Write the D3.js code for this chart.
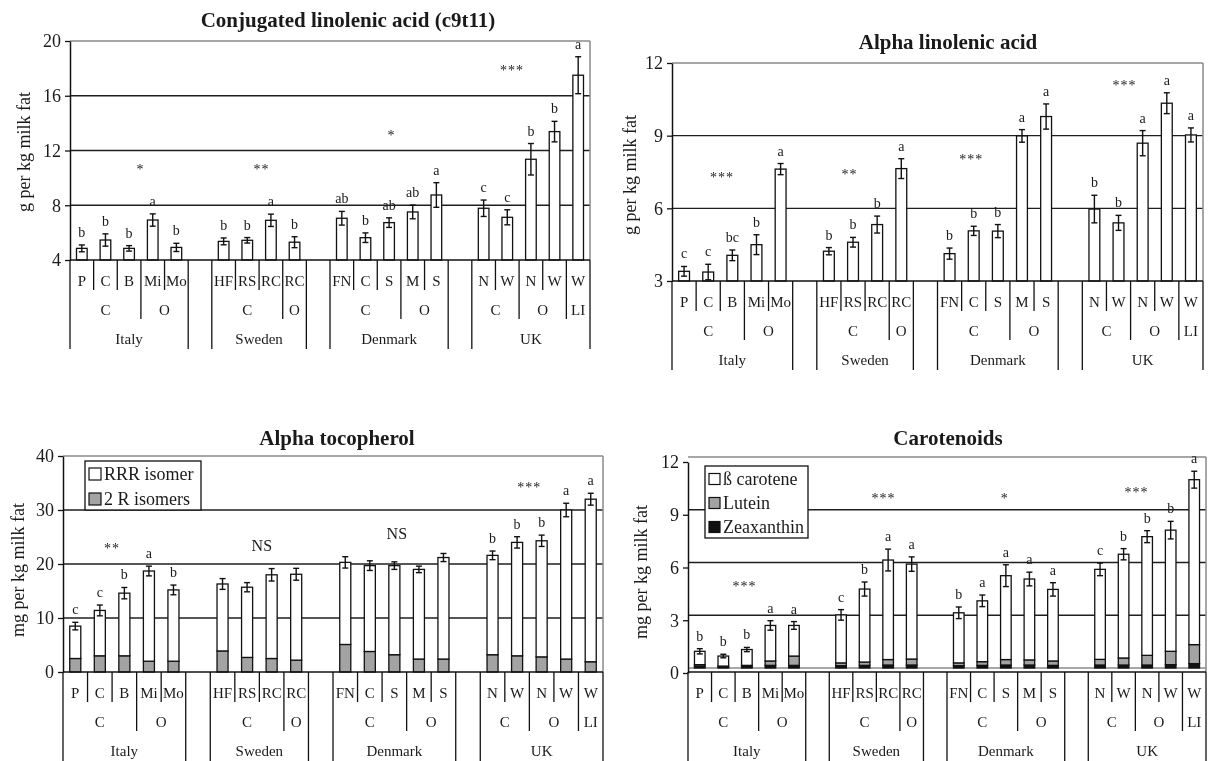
<!DOCTYPE html>
<html><head><meta charset="utf-8">
<script src="https://cdn.jsdelivr.net/npm/d3@7"></script>
<style>
body{margin:0;background:#fff}
svg{display:block;will-change:transform}
text{font-family:"Liberation Serif","Times New Roman",serif;fill:#1a1a1a}
</style>
</head><body>
<svg id="chart" width="1217" height="761"></svg>
<script>
// ---------- categories (three-level axis, blank slots separate countries) ----------
const level1 = ["P","C","B","Mi","Mo","","HF","RS","RC","RC","","FN","C","S","M","S","","N","W","N","W","W"];
const level2 = ["C","C","C","O","O","","C","C","C","O","","C","C","C","O","O","","C","C","O","O","LI"];
const level3 = ["Italy","Italy","Italy","Italy","Italy","","Sweden","Sweden","Sweden","Sweden","","Denmark","Denmark","Denmark","Denmark","Denmark","","UK","UK","UK","UK","UK"];

// ---------- Conjugated linolenic acid (c9t11) ----------
const claValues = [4.85,5.46,4.85,6.92,4.92,null,5.36,5.44,6.90,5.30,null,7.05,5.63,6.73,7.51,8.75,null,7.78,7.12,11.36,13.38,17.50];
const claErr    = [0.25,0.45,0.20,0.45,0.30,null,0.25,0.20,0.45,0.40,null,0.50,0.35,0.35,0.50,0.90,null,0.60,0.55,1.15,0.75,1.35];
const claLetters = ["b","b","b","a","b","","b","b","a","b","","ab","b","ab","ab","a","","c","c","b","b","a"];
const claStars = [["*",2.48,10.9],["**",7.6,10.9],["*",13.1,13.35],["***",18.2,18.1]];
const claTicks = [4,8,12,16,20];

// ---------- Alpha linolenic acid ----------
const alaValues = [3.40,3.37,4.06,4.50,7.62,null,4.23,4.60,5.33,7.64,null,4.13,5.07,5.06,8.99,9.79,null,5.97,5.40,8.69,10.34,9.03];
const alaErr    = [0.20,0.32,0.22,0.41,0.23,null,0.15,0.20,0.35,0.41,null,0.23,0.19,0.27,0.26,0.52,null,0.57,0.31,0.52,0.43,0.29];
const alaLetters = ["c","c","bc","b","a","","b","b","b","a","","b","b","b","a","a","","b","b","a","a","a"];
const alaStars = [["***",1.57,7.42],["**",6.85,7.55],["***",11.9,8.16],["***",18.25,11.2]];
const alaTicks = [3,6,9,12];

// ---------- Alpha tocopherol ----------
const tocoTwoR = [2.5,3.0,3.0,2.0,2.0,null,3.9,2.7,2.5,2.2,null,5.1,3.8,3.2,2.4,2.4,null,3.2,3.0,2.8,2.4,1.9];
const tocoRRR  = [6.0,8.4,11.6,16.7,13.2,null,12.4,13.0,15.5,15.9,null,15.2,15.9,16.5,16.6,18.8,null,18.4,21.0,21.5,27.6,30.1];
const tocoErr  = [0.7,1.0,1.05,0.9,0.9,null,1.0,0.85,1.15,1.1,null,1.05,0.9,0.7,0.6,0.75,null,0.8,1.05,1.05,1.25,1.1];
const tocoLetters = ["c","c","b","a","b","","","","","","","","","","","","","b","b","b","a","a"];
const tocoStars = [["**",1.5,23.5],["NS",7.6,23.5],["NS",13.1,25.8],["***",18.5,34.9]];
const tocoTicks = [0,10,20,30,40];
const tocoKeys = ["2 R isomers","RRR isomer"];

// ---------- Carotenoids ----------
const caroZea    = [0.10,0.08,0.08,0.15,0.15,null,0.13,0.15,0.17,0.17,null,0.13,0.15,0.17,0.17,0.15,null,0.17,0.17,0.17,0.19,0.25];
const caroLutein = [0.09,0.03,0.07,0.25,0.53,null,0.16,0.19,0.31,0.34,null,0.16,0.21,0.31,0.29,0.25,null,0.32,0.40,0.55,0.76,1.08];
const caroBeta   = [0.76,0.57,0.90,2.02,1.74,null,2.73,4.15,5.66,5.40,null,2.85,3.46,4.77,4.60,4.07,null,5.12,5.90,6.75,6.89,9.38];
const caroErr    = [0.15,0.10,0.12,0.27,0.22,null,0.30,0.40,0.62,0.41,null,0.33,0.33,0.62,0.39,0.38,null,0.36,0.32,0.34,0.50,0.48];
const caroLetters = ["b","b","b","a","a","","c","b","a","a","","b","a","a","a","a","","c","b","b","b","a"];
const caroStars = [["***",1.9,4.85],["***",7.8,9.85],["*",12.95,9.85],["***",18.55,10.19]];
const caroTicks = [0,3,6,9,12];
const caroKeys = ["Zeaxanthin","Lutein","ß carotene"];

const svg = d3.select("#chart");

function runs(keyFn) {
  const out = [];
  let start = 0;
  for (let i = 1; i <= level1.length; i++) {
    if (i === level1.length || keyFn(i) !== keyFn(start)) {
      out.push({start, end: i - 1, key: keyFn(start)});
      start = i;
    }
  }
  return out;
}

function drawPanel(p) {
  const g = svg.append("g");
  const n = level1.length;
  const x = d3.scaleBand().domain(d3.range(n)).range([p.left, p.right]).padding(0);
  const xc = d3.scaleLinear().domain([-0.5, n - 0.5]).range([p.left, p.right]);
  const y = d3.scaleLinear().domain(p.domain).range([p.base, p.top]).clamp(true);
  const catY = p.base + (p.catShift || 0);

  // gridlines
  g.selectAll(".grid").data(p.ticks.filter(t => t > p.domain[0] && t < p.domain[1]))
    .join("line").attr("x1", p.left).attr("x2", p.right)
    .attr("y1", d => y(d)).attr("y2", d => y(d))
    .attr("stroke", "#1f1f1f").attr("stroke-width", 1.4);
  if (p.catShift) {
    g.append("line").attr("x1", p.left).attr("x2", p.right).attr("y1", y(p.domain[0])).attr("y2", y(p.domain[0]))
      .attr("stroke", "#8a8a8a").attr("stroke-width", 1.4);
  }
  // plot border (top, right)
  g.append("line").attr("x1", p.left).attr("x2", p.right).attr("y1", p.top).attr("y2", p.top)
    .attr("stroke", "#8a8a8a").attr("stroke-width", 1.5);
  g.append("line").attr("x1", p.right).attr("x2", p.right).attr("y1", p.top).attr("y2", catY)
    .attr("stroke", "#8a8a8a").attr("stroke-width", 1.5);

  // stacked bars
  const rows = level1.map((c, i) => {
    const r = {i};
    p.series.forEach((s, k) => r["k" + k] = s[i] == null ? 0 : s[i]);
    r.valid = p.series[0][i] != null;
    return r;
  });
  const keys = p.series.map((s, k) => "k" + k);
  const stacked = d3.stack().keys(keys)(rows);
  const bw = x.bandwidth() * 0.45;
  stacked.forEach((layer, k) => {
    g.selectAll(null).data(layer.filter(d => d.data.valid)).join("rect")
      .attr("x", d => x(d.data.i) + (x.bandwidth() - bw) / 2)
      .attr("width", bw)
      .attr("y", d => y(d[1]))
      .attr("height", d => Math.max(0, y(d[0]) - y(d[1])))
      .attr("fill", p.fills[k]).attr("stroke", "#111").attr("stroke-width", 1.3);
  });

  // error bars
  const totals = rows.map(r => keys.reduce((a, k) => a + r[k], 0));
  const eb = rows.filter(r => r.valid);
  const cap = 3;
  g.selectAll(null).data(eb).join("line")
    .attr("x1", d => xc(d.i)).attr("x2", d => xc(d.i))
    .attr("y1", d => y(totals[d.i] - p.err[d.i])).attr("y2", d => y(totals[d.i] + p.err[d.i]))
    .attr("stroke", "#111").attr("stroke-width", 1.4);
  [1, -1].forEach(sg => {
    g.selectAll(null).data(eb).join("line")
      .attr("x1", d => xc(d.i) - cap).attr("x2", d => xc(d.i) + cap)
      .attr("y1", d => y(totals[d.i] + sg * p.err[d.i])).attr("y2", d => y(totals[d.i] + sg * p.err[d.i]))
      .attr("stroke", "#111").attr("stroke-width", 1.4);
  });

  // significance letters
  g.selectAll(null).data(eb.filter(d => p.letters[d.i])).join("text")
    .attr("x", d => xc(d.i)).attr("y", d => y(totals[d.i] + p.err[d.i]) - 8)
    .attr("text-anchor", "middle").attr("font-size", 14).attr("fill", "#222").text(d => p.letters[d.i]);

  // stars / NS
  g.selectAll(null).data(p.stars).join("text")
    .attr("x", d => xc(d[1])).attr("y", d => y(d[2]) + (d[0] === "NS" ? 6 : 8))
    .attr("text-anchor", "middle").attr("font-size", d => d[0] === "NS" ? 16 : 14)
    .attr("letter-spacing", d => d[0] === "NS" ? 0 : 1).attr("fill", "#222").text(d => d[0]);

  // y axis
  const ya = g.append("g").attr("transform", `translate(${p.left},${p.tickShift || 0})`)
    .call(d3.axisLeft(y).tickValues(p.ticks).tickSize(5).tickSizeOuter(0).tickPadding(4));
  ya.attr("font-family", null);
  ya.selectAll("path.domain").attr("stroke", "#111").attr("stroke-width", 1.5);
  ya.selectAll(".tick line").attr("stroke", "#111").attr("stroke-width", 1.3);
  ya.selectAll(".tick text").attr("font-size", 18).attr("fill", "#1a1a1a");

  // category axis
  g.append("line").attr("x1", p.left).attr("x2", p.right).attr("y1", catY).attr("y2", catY)
    .attr("stroke", "#111").attr("stroke-width", 1.5);
  const ends = [catY + 30, catY + 59, catY + 89];
  const bounds = d3.range(n + 1).map(k => {
    let depth;
    if (k === 0 || k === n || level3[k - 1] !== level3[k]) depth = 2;
    else if (level2[k - 1] !== level2[k]) depth = 1;
    else depth = 0;
    return {k, depth};
  });
  g.selectAll(null).data(bounds).join("line")
    .attr("x1", d => xc(d.k - 0.5)).attr("x2", d => xc(d.k - 0.5))
    .attr("y1", catY).attr("y2", d => ends[d.depth])
    .attr("stroke", "#111").attr("stroke-width", 1.3);
  g.selectAll(null).data(level1.map((c, i) => ({c, i})).filter(d => d.c)).join("text")
    .attr("x", d => xc(d.i)).attr("y", catY + 21).attr("dy", "0.35em")
    .attr("text-anchor", "middle").attr("font-size", 15).text(d => d.c);
  const r2 = runs(i => level3[i] + "|" + level2[i]).filter(r => level2[r.start]);
  g.selectAll(null).data(r2).join("text")
    .attr("x", d => xc((d.start + d.end) / 2)).attr("y", catY + 50).attr("dy", "0.35em")
    .attr("text-anchor", "middle").attr("font-size", 15).text(d => level2[d.start]);
  const r3 = runs(i => level3[i]).filter(r => level3[r.start]);
  g.selectAll(null).data(r3).join("text")
    .attr("x", d => xc((d.start + d.end) / 2)).attr("y", catY + 79).attr("dy", "0.35em")
    .attr("text-anchor", "middle").attr("font-size", 15).text(d => level3[d.start]);

  // titles
  g.append("text").attr("x", p.titleX).attr("y", p.titleY).attr("text-anchor", "middle")
    .attr("font-size", 21).attr("font-weight", "bold").text(p.title);
  g.append("text").attr("transform", `translate(${p.ylabX},${p.ylabY}) rotate(-90)`)
    .attr("text-anchor", "middle").attr("dy", "0.35em").attr("font-size", 18).text(p.ylabel);

  // legend
  if (p.legend) {
    const L = p.legend;
    g.append("rect").attr("x", L.x).attr("y", L.y).attr("width", L.w).attr("height", L.h)
      .attr("fill", "#fff").attr("stroke", "#111").attr("stroke-width", 1.3);
    const items = L.order.map(k => ({name: p.keys[k], fill: p.fills[k]}));
    const li = g.selectAll(null).data(items).join("g")
      .attr("transform", (d, j) => `translate(${L.x + 4},${L.y + L.first + j * L.step})`);
    li.append("rect").attr("x", 0).attr("y", -L.sw / 2).attr("width", L.sw).attr("height", L.sw)
      .attr("fill", d => d.fill).attr("stroke", "#111").attr("stroke-width", 1.2);
    li.append("text").attr("x", L.sw + 3).attr("dy", "0.35em").attr("font-size", 18).text(d => d.name);
  }
}

drawPanel({
  left: 70, right: 590, top: 41, base: 260, domain: [4, 20], ticks: claTicks,
  series: [claValues], fills: ["#fff"], err: claErr, letters: claLetters, stars: claStars,
  title: "Conjugated linolenic acid (c9t11)", titleX: 348, titleY: 27,
  ylabel: "g per kg milk fat", ylabX: 24, ylabY: 152
});
drawPanel({
  left: 672, right: 1203, top: 63, base: 281, domain: [3, 12], ticks: alaTicks,
  series: [alaValues], fills: ["#fff"], err: alaErr, letters: alaLetters, stars: alaStars,
  title: "Alpha linolenic acid", titleX: 948, titleY: 49,
  ylabel: "g per kg milk fat", ylabX: 630, ylabY: 175
});
drawPanel({
  left: 63, right: 603, top: 456, base: 672, domain: [0, 40], ticks: tocoTicks,
  series: [tocoTwoR, tocoRRR], fills: ["#a3a3a3", "#fff"], keys: tocoKeys, err: tocoErr, letters: tocoLetters, stars: tocoStars,
  title: "Alpha tocopherol", titleX: 337, titleY: 445,
  ylabel: "mg per kg milk fat", ylabX: 18, ylabY: 570,
  legend: {x: 85, y: 461, w: 116, h: 49, first: 13, step: 25, sw: 12, order: [1, 0]}
});
drawPanel({
  left: 688, right: 1206, top: 457, base: 668, domain: [0, 12], ticks: caroTicks, tickShift: 5, catShift: 4,
  series: [caroZea, caroLutein, caroBeta], fills: ["#111", "#a3a3a3", "#fff"], keys: caroKeys, err: caroErr, letters: caroLetters, stars: caroStars,
  title: "Carotenoids", titleX: 948, titleY: 445,
  ylabel: "mg per kg milk fat", ylabX: 641, ylabY: 572,
  legend: {x: 705, y: 466, w: 103, h: 72, first: 13, step: 24, sw: 11, order: [2, 1, 0]}
});
</script>
</body></html>
